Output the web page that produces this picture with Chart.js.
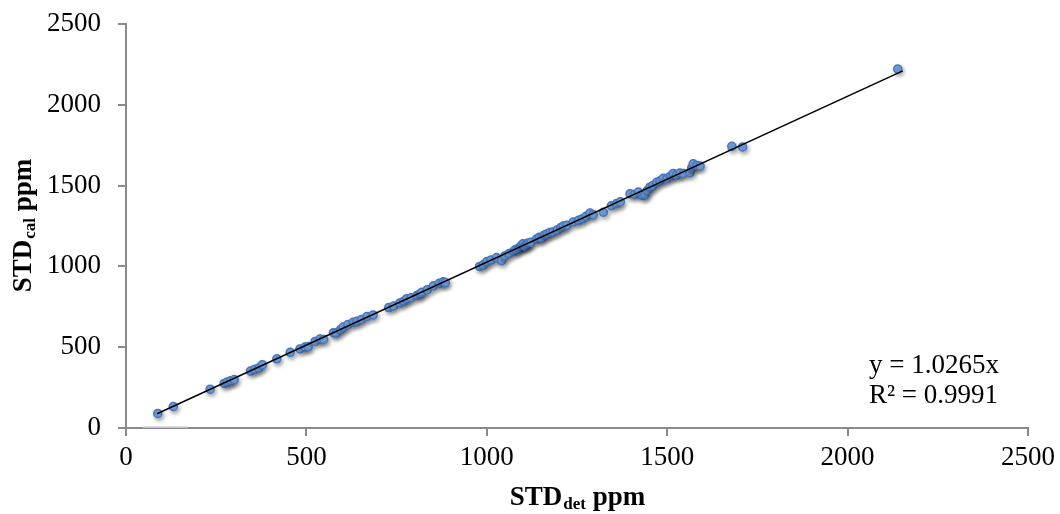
<!DOCTYPE html>
<html>
<head>
<meta charset="utf-8">
<script src="https://cdn.jsdelivr.net/npm/chart.js@4/dist/chart.umd.min.js"></script>
<style>
  html, body { margin: 0; padding: 0; background: #fff; }
  #wrap { width: 1060px; height: 514px; position: relative; }
</style>
</head>
<body>
<div id="wrap"><canvas id="std_scatter"></canvas></div>
<script>
// STD measured (det) vs calculated (cal), ppm
var stdDet = [88, 131, 233, 272, 281, 290, 300, 345, 357, 368, 378, 418, 455, 482, 496, 505, 524, 538, 548,
  575, 583, 595, 602, 615, 630, 640, 653, 668, 685, 728, 742, 759, 770, 778, 790, 806, 815, 820, 835, 852, 868, 879, 885,
  980, 990, 1000, 1012, 1027, 1041, 1050, 1062, 1075, 1080, 1088, 1092, 1097, 1100, 1105, 1110, 1115, 1122,
  1138, 1145, 1152, 1160, 1166, 1175, 1184, 1195, 1205, 1212, 1222, 1240, 1254, 1265, 1275, 1286, 1295, 1323,
  1345, 1360, 1370, 1397, 1410, 1420, 1432, 1438, 1445, 1452, 1460, 1471, 1480, 1489, 1500, 1510, 1517, 1526,
  1535, 1545, 1563, 1568, 1572, 1582, 1591, 1679, 1709, 2139];
var stdCal = [90, 133, 240, 276, 285, 292, 300, 352, 364, 372, 392, 428, 468, 489, 501, 505, 536, 551, 548,
  590, 588, 610, 625, 640, 655, 660, 672, 690, 700, 745, 755, 774, 785, 800, 806, 820, 830, 840, 856, 880, 895, 905, 900,
  1000, 1010, 1030, 1040, 1055, 1035, 1065, 1080, 1095, 1105, 1110, 1120, 1130, 1140, 1125, 1135, 1145, 1150,
  1170, 1180, 1175, 1195, 1200, 1210, 1215, 1225, 1240, 1250, 1255, 1275, 1285, 1295, 1310, 1330, 1320, 1335,
  1375, 1390, 1400, 1450, 1445, 1460, 1440, 1445, 1470, 1490, 1500, 1520, 1530, 1545, 1545, 1560, 1575, 1565,
  1578, 1575, 1580, 1610, 1635, 1625, 1622, 1743, 1739, 2222];

// linear trendline through origin, as printed on the chart
var slope = 1.0265;
var rSquared = 0.9991;
var trendX = [86, 2153];

// short light grey stub sitting on the x axis in the original
var stubX = [47, 172];
var stubY = [0, 0];

var axisMin = 0, axisMax = 2500, axisStep = 500;

var serif = "'Liberation Serif', 'DejaVu Serif', serif";

var points = stdDet.map(function(x, i) { return { x: x, y: stdCal[i] }; });
var trend = trendX.map(function(x) { return { x: x, y: slope * x }; });
var stub = stubX.map(function(x, i) { return { x: x, y: stubY[i] }; });

// soft drop shadow under the markers, like the office chart
var shadowPlugin = {
  id: 'markerShadow',
  beforeDatasetDraw: function(chart, args) {
    if (args.index !== 2) return;
    var ctx = chart.ctx;
    ctx.save();
    ctx.shadowColor = 'rgba(0,0,0,0.35)';
    ctx.shadowBlur = 4;
    ctx.shadowOffsetX = 1.5;
    ctx.shadowOffsetY = 2.5;
  },
  afterDatasetDraw: function(chart, args) {
    if (args.index !== 2) return;
    chart.ctx.restore();
  }
};

// axis titles with subscripts and the trendline equation
function drawSubTitle(ctx, main, sub, rest, cx, cy, rotate) {
  var big = 'bold 27px ' + serif;
  var small = 'bold 17px ' + serif;
  ctx.font = big;
  var w1 = ctx.measureText(main).width;
  var w3 = ctx.measureText(rest).width;
  ctx.font = small;
  var w2 = ctx.measureText(sub).width;
  var total = w1 + w2 + w3;
  ctx.save();
  ctx.translate(cx, cy);
  if (rotate) ctx.rotate(-Math.PI / 2);
  ctx.fillStyle = '#000';
  ctx.textBaseline = 'alphabetic';
  ctx.textAlign = 'left';
  var x0 = -total / 2;
  ctx.font = big;
  ctx.fillText(main, x0, 8);
  ctx.font = small;
  ctx.fillText(sub, x0 + w1 + 1, 12);
  ctx.font = big;
  ctx.fillText(rest, x0 + w1 + w2 + 1, 8);
  ctx.restore();
}

var labelPlugin = {
  id: 'labels',
  afterDraw: function(chart) {
    var ctx = chart.ctx;
    var a = chart.chartArea;
    drawSubTitle(ctx, 'STD', 'det', ' ppm', (a.left + a.right) / 2, 497, false);
    drawSubTitle(ctx, 'STD', 'cal', ' ppm', 23, (a.top + a.bottom) / 2, true);
    ctx.save();
    ctx.fillStyle = '#000';
    ctx.font = '27px ' + serif;
    ctx.textAlign = 'left';
    ctx.textBaseline = 'alphabetic';
    ctx.fillText('y = ' + slope + 'x', 869, 373);
    ctx.fillText('R\u00B2 = ' + rSquared, 869, 403);
    ctx.restore();
  }
};

var axisColor = '#8a8a8a';
var plainTick = function(value) { return String(value); };

new Chart(document.getElementById('std_scatter'), {
  type: 'scatter',
  data: {
    datasets: [
      {
        label: 'stub',
        type: 'line',
        data: stub,
        borderColor: '#c4c4c4',
        borderWidth: 3,
        pointRadius: 0,
        order: 3
      },
      {
        label: 'trend',
        type: 'line',
        data: trend,
        borderColor: '#000',
        borderWidth: 1.5,
        pointRadius: 0,
        fill: false,
        order: 0
      },
      {
        label: 'STD',
        data: points,
        backgroundColor: '#78a6e0',
        borderColor: '#4677bf',
        borderWidth: 1.5,
        pointRadius: 4,
        order: 1
      }
    ]
  },
  options: {
    responsive: true,
    maintainAspectRatio: false,
    animation: false,
    devicePixelRatio: 1,
    layout: { padding: { top: 24, right: 32, left: 0, bottom: 0 } },
    plugins: {
      legend: { display: false },
      tooltip: { enabled: false }
    },
    scales: {
      x: {
        type: 'linear',
        min: axisMin,
        max: axisMax,
        ticks: { stepSize: axisStep, color: '#000', font: { family: serif, size: 27 }, padding: 6, maxRotation: 0, callback: plainTick },
        grid: { drawOnChartArea: false, drawTicks: true, tickLength: 8, color: axisColor, lineWidth: 2 },
        border: { color: axisColor, width: 2 },
        afterFit: function(scale) {
          scale.height = 86;
          scale.paddingLeft = 0;
          scale.paddingRight = 0;
        }
      },
      y: {
        type: 'linear',
        min: axisMin,
        max: axisMax,
        ticks: { stepSize: axisStep, color: '#000', font: { family: serif, size: 27 }, padding: 17, callback: plainTick },
        grid: { drawOnChartArea: false, drawTicks: true, tickLength: 8, color: axisColor, lineWidth: 2 },
        border: { color: axisColor, width: 2 },
        afterFit: function(scale) {
          scale.width = 126;
          scale.paddingTop = 0;
          scale.paddingBottom = 0;
        }
      }
    }
  },
  plugins: [shadowPlugin, labelPlugin]
});
</script>
</body>
</html>
